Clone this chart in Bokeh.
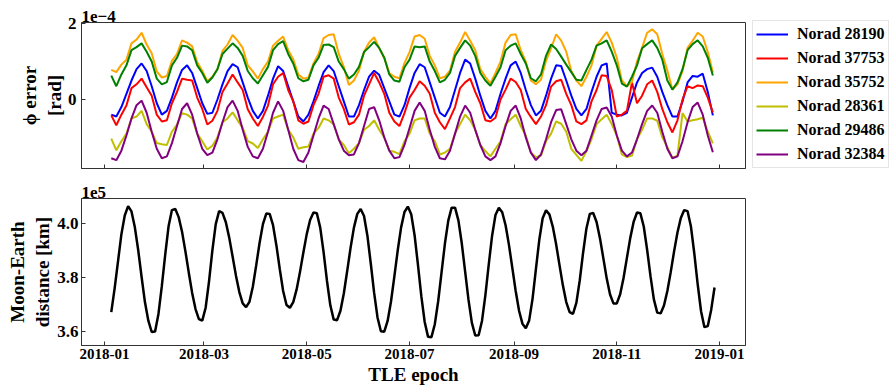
import numpy as np
from datetime import datetime
from bokeh.plotting import figure
from bokeh.layouts import column
from bokeh.models import (Range1d, FixedTicker, DatetimeTickFormatter, Legend,
                          LegendItem, PrintfTickFormatter)
from bokeh.embed import file_html
from bokeh.resources import INLINE

FONT = "Liberation Serif"

# ---- data: phi error (units of 1e-4 rad), one value every 3 days from 2018-01-05 ----
err_start = "2018-01-05"
err_step_days = 3
norad_28190 = [
    -0.40, -0.45, -0.20, 0.15, 0.50, 0.80, 0.95, 0.75, 0.35, -0.10,
    -0.40, -0.30, 0.05, 0.45, 0.78, 0.90, 0.70, 0.30, -0.10, -0.38,
    -0.35, 0.00, 0.40, 0.75, 0.93, 0.85, 0.45, 0.05, -0.30, -0.50,
    -0.30, 0.10, 0.55, 0.88, 0.75, 0.35, -0.05, -0.45, -0.58, -0.40,
    -0.05, 0.35, 0.72, 0.90, 0.75, 0.35, -0.05, -0.45, -0.45, -0.15,
    0.25, 0.60, 0.76, 0.65, 0.30, -0.05, -0.40, -0.45, -0.15, 0.30,
    0.70, 0.93, 0.85, 0.45, 0.05, -0.35, -0.45, -0.20, 0.25, 0.70,
    1.05, 0.95, 0.55, 0.10, -0.30, -0.50, -0.30, 0.15, 0.55, 0.90,
    1.00, 0.70, 0.25, -0.15, -0.42, -0.30, 0.10, 0.55, 0.90, 0.88,
    0.50, 0.10, -0.25, -0.42, -0.25, 0.20, 0.60, 0.90, 0.95, -0.35,
    -0.40, -0.42, -0.35, 0.05, 0.45, 0.70, 0.80, 0.84, 0.60, 0.20,
    -0.15, -0.45, -0.45, -0.05, 0.45, 0.62, 0.60, 0.68, 0.20, -0.42]
norad_37753 = [
    -0.42, -0.68, -0.40, -0.16, 0.30, 0.40, 0.55, 0.32, 0.10, -0.40,
    -0.58, -0.55, -0.10, 0.20, 0.55, 0.52, 0.50, 0.05, -0.25, -0.66,
    -0.56, -0.30, 0.20, 0.42, 0.66, 0.45, 0.25, -0.26, -0.50, -0.70,
    -0.46, -0.16, 0.40, 0.60, 0.70, 0.25, -0.05, -0.55, -0.64, -0.58,
    -0.15, 0.15, 0.60, 0.64, 0.55, 0.05, -0.25, -0.66, -0.60, -0.40,
    0.10, 0.40, 0.70, 0.45, 0.15, -0.35, -0.58, -0.70, -0.36, 0.05,
    0.25, 0.48, 0.36, 0.15, -0.35, -0.60, -0.78, -0.50, -0.20, 0.30,
    0.45, 0.55, 0.20, -0.10, -0.55, -0.58, -0.48, 0.00, 0.26, 0.55,
    0.46, 0.25, -0.25, -0.46, -0.65, -0.45, -0.15, 0.34, 0.48, 0.52,
    0.15, -0.15, -0.58, -0.65, -0.55, -0.05, 0.25, 0.64, 0.62, 0.25,
    -0.45, -0.40, -0.30, 0.45, -0.10, 0.10, 0.40, 0.50, 0.20, -0.25,
    -0.60, -0.87, -0.55, 0.00, 0.35, 0.30, 0.37, 0.35, 0.05, -0.34]
norad_35752 = [
    0.78, 0.72, 0.92, 1.05, 1.48, 1.58, 1.76, 1.45, 1.22, 0.74,
    0.58, 0.62, 1.02, 1.20, 1.56, 1.50, 1.40, 0.98, 0.76, 0.48,
    0.60, 0.80, 1.28, 1.45, 1.70, 1.55, 1.36, 0.90, 0.74, 0.55,
    0.80, 1.00, 1.42, 1.55, 1.66, 1.30, 1.06, 0.66, 0.55, 0.58,
    0.95, 1.20, 1.62, 1.70, 1.72, 1.20, 0.86, 0.38, 0.50, 0.76,
    1.26, 1.50, 1.64, 1.35, 1.10, 0.70, 0.60, 0.56, 0.96, 1.25,
    1.66, 1.70, 1.60, 1.15, 0.90, 0.56, 0.60, 0.76, 1.26, 1.50,
    1.78, 1.55, 1.30, 0.80, 0.60, 0.42, 0.70, 1.00, 1.50, 1.70,
    1.72, 1.30, 1.00, 0.50, 0.40, 0.52, 1.02, 1.35, 1.72, 1.55,
    1.26, 0.75, 0.50, 0.35, 0.60, 0.90, 1.42, 1.60, 1.78, 1.50,
    1.10, 0.50, 0.35, 0.46, 1.00, 1.36, 1.76, 1.85, 1.72, 1.20,
    0.76, 0.26, 0.40, 0.75, 1.36, 1.55, 1.76, 1.66, 1.25, 0.71]
norad_28361 = [
    -1.03, -1.34, -1.10, -0.90, -0.50, -0.45, -0.30, -0.65, -0.85, -1.15,
    -1.18, -1.20, -0.85, -0.66, -0.36, -0.40, -0.50, -0.90, -1.10, -1.32,
    -1.22, -1.00, -0.60, -0.50, -0.34, -0.55, -0.75, -1.10, -1.16, -1.28,
    -1.05, -0.85, -0.50, -0.45, -0.40, -0.80, -1.00, -1.30, -1.26, -1.24,
    -0.90, -0.75, -0.50, -0.55, -0.66, -1.05, -1.20, -1.42, -1.30, -1.15,
    -0.80, -0.70, -0.55, -0.80, -1.00, -1.35, -1.38, -1.44, -1.10, -0.90,
    -0.55, -0.50, -0.50, -0.90, -1.10, -1.45, -1.40, -1.30, -0.90, -0.65,
    -0.40, -0.55, -0.80, -1.20, -1.36, -1.50, -1.30, -1.10, -0.65, -0.52,
    -0.40, -0.70, -0.95, -1.40, -1.52, -1.48, -1.10, -0.90, -0.58, -0.64,
    -0.85, -1.30, -1.46, -1.62, -1.36, -1.05, -0.65, -0.52, -0.40, -0.65,
    -0.95, -1.45, -1.52, -1.48, -1.05, -0.80, -0.50, -0.50, -0.56, -1.00,
    -1.26, -1.54, -1.48, -0.36, -0.58, -0.55, -0.52, -0.48, -0.85, -1.16]
norad_29486 = [
    0.63, 0.35, 0.66, 0.90, 1.30, 1.38, 1.48, 1.26, 1.00, 0.55,
    0.40, 0.46, 0.90, 1.10, 1.42, 1.40, 1.30, 0.90, 0.70, 0.44,
    0.58, 0.80, 1.20, 1.34, 1.48, 1.36, 1.15, 0.75, 0.56, 0.42,
    0.64, 0.86, 1.30, 1.46, 1.54, 1.20, 0.95, 0.56, 0.48, 0.52,
    0.90, 1.10, 1.44, 1.45, 1.38, 1.00, 0.80, 0.55, 0.66, 0.86,
    1.25, 1.38, 1.52, 1.36, 1.10, 0.66, 0.50, 0.47, 0.85, 1.05,
    1.40, 1.38, 1.40, 1.00, 0.75, 0.45, 0.52, 0.70, 1.15, 1.36,
    1.56, 1.42, 1.15, 0.70, 0.50, 0.36, 0.60, 0.85, 1.30, 1.42,
    1.48, 1.20, 0.95, 0.56, 0.48, 0.66, 1.15, 1.45, 1.33, 1.13,
    0.92, 0.72, 0.52, 0.50, 0.78, 1.05, 1.42, 1.48, 1.56, 1.26,
    0.90, 0.42, 0.34, 0.60, 0.90, 1.35, 1.46, 1.56, 1.36, 1.05,
    0.50, 0.26, 0.45, 0.80, 1.30, 1.46, 1.56, 1.40, 1.10, 0.63]
norad_32384 = [
    -1.55, -1.60, -1.35, -0.95, -0.50, -0.15, -0.03, -0.35, -0.85, -1.30,
    -1.55, -1.50, -1.15, -0.70, -0.25, -0.10, -0.40, -0.90, -1.30, -1.47,
    -1.40, -1.05, -0.60, -0.20, -0.03, -0.30, -0.80, -1.25, -1.50, -1.55,
    -1.30, -0.85, -0.35, -0.05, -0.30, -0.80, -1.30, -1.60, -1.65, -1.40,
    -0.95, -0.50, -0.16, -0.25, -0.65, -1.05, -1.35, -1.47, -1.45, -1.15,
    -0.70, -0.25, -0.20, -0.55, -1.00, -1.35, -1.55, -1.52, -1.20, -0.75,
    -0.30, -0.08, -0.30, -0.80, -1.25, -1.55, -1.58, -1.35, -0.90, -0.45,
    -0.16, -0.35, -0.80, -1.20, -1.50, -1.60, -1.50, -1.15, -0.70, -0.30,
    -0.16, -0.50, -1.00, -1.40, -1.60, -1.45, -1.05, -0.60, -0.28, -0.26,
    -0.65, -1.05, -1.35, -1.47, -1.35, -0.95, -0.55, -0.25, -0.21, -0.45,
    -0.95, -1.35, -1.50, -1.40, -1.05, -0.65, -0.30, -0.16, -0.35, -0.85,
    -1.30, -1.55, -1.50, -1.10, -0.60, -0.20, -0.08, -0.40, -0.95, -1.39]

# ---- data: Moon-Earth distance (units of 1e5 km), one value every 2 days from 2018-01-05 ----
dist_start = "2018-01-05"
dist_step_days = 2
moon_earth_distance = [
    3.672, 3.760, 3.860, 3.960, 4.030, 4.065, 4.045, 3.986, 3.901, 3.802,
    3.708, 3.640, 3.598, 3.600, 3.665, 3.768, 3.884, 3.990, 4.050, 4.054,
    4.024, 3.970, 3.897, 3.818, 3.743, 3.683, 3.646, 3.640, 3.688, 3.785,
    3.901, 3.998, 4.046, 4.040, 4.005, 3.948, 3.878, 3.807, 3.746, 3.704,
    3.690, 3.710, 3.766, 3.845, 3.928, 3.998, 4.037, 4.036, 3.994, 3.919,
    3.831, 3.750, 3.698, 3.688, 3.709, 3.756, 3.821, 3.893, 3.961, 4.013,
    4.041, 4.038, 3.985, 3.894, 3.788, 3.697, 3.644, 3.642, 3.677, 3.741,
    3.824, 3.910, 3.985, 4.036, 4.054, 4.028, 3.955, 3.852, 3.743, 3.652,
    3.601, 3.599, 3.639, 3.711, 3.804, 3.901, 3.986, 4.043, 4.063, 4.035,
    3.957, 3.847, 3.731, 3.635, 3.580, 3.579, 3.627, 3.712, 3.819, 3.926,
    4.011, 4.059, 4.059, 4.012, 3.927, 3.822, 3.717, 3.632, 3.585, 3.586,
    3.639, 3.734, 3.848, 3.955, 4.032, 4.059, 4.042, 3.994, 3.921, 3.836,
    3.750, 3.677, 3.629, 3.612, 3.641, 3.721, 3.831, 3.940, 4.020, 4.049,
    4.034, 3.989, 3.923, 3.846, 3.771, 3.709, 3.672, 3.665, 3.706, 3.789,
    3.892, 3.983, 4.036, 4.039, 4.006, 3.946, 3.872, 3.797, 3.737, 3.704,
    3.704, 3.738, 3.798, 3.873, 3.947, 4.007, 4.041, 4.038, 3.989, 3.903,
    3.805, 3.719, 3.670, 3.667, 3.696, 3.750, 3.820, 3.897, 3.967, 4.021,
    4.050, 4.046, 3.989, 3.889, 3.775, 3.675, 3.616, 3.620, 3.680, 3.763]

series_labels = ["Norad 28190", "Norad 37753", "Norad 35752",
                 "Norad 28361", "Norad 29486", "Norad 32384"]
series_values = [norad_28190, norad_37753, norad_35752,
                 norad_28361, norad_29486, norad_32384]
series_colors = ["#0000ff", "#ff0000", "#ffa500", "#bfbf00", "#008000", "#800080"]

x_tick_dates = ["2018-01-01", "2018-03-01", "2018-05-01", "2018-07-01",
                "2018-09-01", "2018-11-01", "2019-01-01"]


def dates(start, step, n):
    return np.datetime64(start) + np.arange(n) * np.timedelta64(step, "D")


def ms(s):
    return (datetime.fromisoformat(s) - datetime(1970, 1, 1)).total_seconds() * 1000.0


xr = Range1d(start=datetime(2017, 12, 18, 8, 0), end=datetime(2019, 1, 16, 9, 0))
x_ticker = FixedTicker(ticks=[ms(d) for d in x_tick_dates])
fmt = "%Y-%m"
x_formatter = DatetimeTickFormatter(years=fmt, months=fmt, days=fmt, hours=fmt,
                                    minutes=fmt, seconds=fmt, milliseconds=fmt,
                                    hourmin=fmt, minsec=fmt)

FRAME = "#333333"


def style(p):
    p.outline_line_color = FRAME
    p.outline_line_width = 1
    p.xgrid.visible = False
    p.ygrid.visible = False
    p.background_fill_color = "white"
    p.border_fill_color = "white"
    for ax in p.axis:
        ax.axis_line_color = FRAME
        ax.major_tick_line_color = FRAME
        ax.major_tick_in = 4
        ax.major_tick_out = 0
        ax.minor_tick_line_color = None
        ax.major_label_text_font = FONT
        ax.major_label_text_font_style = "bold"
        ax.major_label_text_color = "black"
        ax.axis_label_text_font = FONT
        ax.axis_label_text_font_style = "bold"
        ax.axis_label_text_font_size = "19px"
        ax.axis_label_text_color = "black"
    p.xaxis.ticker = x_ticker
    p.xaxis.formatter = x_formatter
    p.xaxis.major_label_text_font_size = "15px"
    p.yaxis.major_label_text_font_size = "17px"
    p.title.text_font = FONT
    p.title.text_font_style = "bold"
    p.title.text_font_size = "17px"
    p.title.text_color = "black"
    p.title.align = "left"
    p.title.standoff = 2


# ---- top panel ----
p1 = figure(frame_width=664, frame_height=146, x_axis_type="datetime",
            x_range=xr, y_range=Range1d(-1.82, 2.03),
            min_border_left=81, min_border_right=148, min_border_top=22,
            min_border_bottom=4, title="1e\u22124",
            output_backend="svg", toolbar_location=None)
items = []
for lab, vals, col in zip(series_labels, series_values, series_colors):
    r = p1.line(dates(err_start, err_step_days, len(vals)), vals,
                line_color=col, line_width=2)
    items.append(LegendItem(label=lab, renderers=[r]))
style(p1)
p1.yaxis.ticker = FixedTicker(ticks=[-2, 0, 2])
p1.yaxis.axis_label = "\u03d5 error\n[rad]"
p1.yaxis.major_label_standoff = 5
p1.yaxis.axis_label_standoff = 0
p1.xaxis.major_label_text_font_size = "0px"
p1.xaxis.major_label_text_color = None
p1.xaxis.major_label_standoff = 0

legend = Legend(items=items, location=(7, 0))
legend.label_text_font = FONT
legend.label_text_font_style = "bold"
legend.label_text_font_size = "16px"
legend.label_text_color = "black"
legend.glyph_width = 32
legend.glyph_height = 20
legend.label_height = 20
legend.label_standoff = 9
legend.spacing = 4
legend.padding = 3
legend.margin = 0
legend.border_line_color = "#cccccc"
legend.border_line_width = 1
legend.background_fill_color = "white"
legend.background_fill_alpha = 1.0
p1.add_layout(legend, "right")

# ---- bottom panel ----
p2 = figure(frame_width=664, frame_height=147, x_axis_type="datetime",
            x_range=xr, y_range=Range1d(3.548, 4.093),
            min_border_left=81, min_border_right=148, min_border_top=26,
            min_border_bottom=42, title="1e5",
            output_backend="svg", toolbar_location=None)
p2.line(dates(dist_start, dist_step_days, len(moon_earth_distance)),
        moon_earth_distance, line_color="black", line_width=2.5)
style(p2)
p2.yaxis.ticker = FixedTicker(ticks=[3.6, 3.8, 4.0])
p2.yaxis.formatter = PrintfTickFormatter(format="%.1f")
p2.yaxis.axis_label = "Moon-Earth\ndistance [km]"
p2.yaxis.major_label_standoff = 3
p2.yaxis.axis_label_standoff = 1
p2.xaxis.axis_label = "TLE epoch"
p2.xaxis.major_label_standoff = 3
p2.xaxis.axis_label_standoff = 2

layout = column(p1, p2, spacing=0)
open("out.html", "w").write(file_html(layout, INLINE))
